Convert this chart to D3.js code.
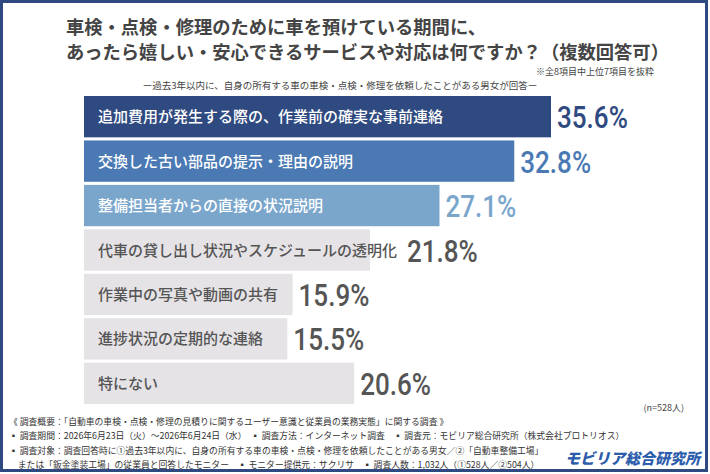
<!DOCTYPE html>
<html><head><meta charset="utf-8">
<script src="https://cdn.jsdelivr.net/npm/d3@7"></script>
<style>body{margin:0;background:#fff}svg{display:block}</style>
</head><body><svg id="c" width="710" height="474"></svg>
<script>
const categories=["追加費用が発生する際の、作業前の確実な事前連絡","交換した古い部品の提示・理由の説明","整備担当者からの直接の状況説明","代車の貸し出し状況やスケジュールの透明化","作業中の写真や動画の共有","進捗状況の定期的な連絡","特にない"];
const values=[35.6,32.8,27.1,21.8,15.9,15.5,20.6];
const barColors=["#2f4a80","#4a79b4","#7ba6cc","#e5e3e6","#e5e3e6","#e5e3e6","#e5e3e6"];
const valColors=["#2f4a80","#4a79b4","#7ba6cc","#555","#555","#555","#555"];
const F="'Noto Sans CJK JP','Noto Sans',sans-serif";
const svg=d3.select("#c");
svg.append("rect").attr("x",1.5).attr("y",1.5).attr("width",705).attr("height",469).attr("fill","#fff").attr("stroke","#2f4a80").attr("stroke-width",3);
const x=d3.scaleLinear().domain([0,35.6]).range([84,551]);
const y=d3.scaleBand().domain(d3.range(categories.length)).range([96,404]).paddingInner(0.07).paddingOuter(0);
svg.append("text").attr("x",66).attr("y",34).attr("font-family",F).attr("font-size",18.3).attr("font-weight",700).attr("fill","#444").text("車検・点検・修理のために車を預けている期間に、");
svg.append("text").attr("x",66).attr("y",59).attr("font-family",F).attr("font-size",18.3).attr("font-weight",700).attr("fill","#444").text("あったら嬉しい・安心できるサービスや対応は何ですか？（複数回答可）");
svg.append("text").attr("x",654).attr("y",75).attr("text-anchor","end").attr("font-family",F).attr("font-size",9).attr("fill","#444").text("※全8項目中上位7項目を抜粋");
svg.append("text").attr("x",340).attr("y",89).attr("text-anchor","middle").attr("font-family",F).attr("font-size",9.5).attr("fill","#444").text("ー過去3年以内に、自身の所有する車の車検・点検・修理を依頼したことがある男女が回答ー");
const g=svg.selectAll("g.r").data(values).join("g");
g.append("rect").attr("x",x(0)).attr("y",(d,i)=>y(i)).attr("width",d=>x(d)-x(0)).attr("height",y.bandwidth()).attr("fill",(d,i)=>barColors[i]);
const lab=g.append("text").attr("x",98).attr("y",(d,i)=>y(i)+y.bandwidth()/2+5.5).attr("font-family",F).attr("font-size",15).attr("font-weight",500).attr("fill",(d,i)=>i<3?"#fff":"#555").text((d,i)=>categories[i]);
const labEnd=[];lab.each(function(){labEnd.push(98+this.getComputedTextLength());});
g.append("text").attr("x",(d,i)=>Math.max(x(d),labEnd[i]+4)+6).attr("y",(d,i)=>y(i)+y.bandwidth()/2+11.5).attr("font-family","'Roboto',sans-serif").attr("font-size",31).attr("font-weight",500).attr("fill",(d,i)=>valColors[i]).text(d=>d.toFixed(1)+"%")
 .each(function(){const L=this.getComputedTextLength();d3.select(this).attr("textLength",L*0.84).attr("lengthAdjust","spacingAndGlyphs");});
svg.append("text").attr("x",684).attr("y",411).attr("text-anchor","end").attr("font-family",F).attr("font-size",9).attr("fill","#444").text("(n=528人)");
const foot=["《 調査概要：「自動車の車検・点検・修理の見積りに関するユーザー意識と従業員の業務実態」に関する調査 》","▪ 調査期間：2026年6月23日（火）～2026年6月24日（水）　▪ 調査方法：インターネット調査　▪ 調査元：モビリア総合研究所（株式会社プロトリオス）","▪ 調査対象：調査回答時に①過去3年以内に、自身の所有する車の車検・点検・修理を依頼したことがある男女／②「自動車整備工場」","　または「鈑金塗装工場」の従業員と回答したモニター　▪ モニター提供元：サクリサ　▪ 調査人数：1,032人（①528人／②504人）"];
svg.selectAll("text.f").data(foot).join("text").attr("x",9).attr("y",(d,i)=>425+i*14.3).attr("font-family",F).attr("font-size",8.8).attr("fill","#333").text(d=>d);
svg.append("text").attr("x",700).attr("y",464).attr("text-anchor","end").attr("font-family",F).attr("font-size",15).attr("font-weight",900).attr("font-style","italic").attr("fill","#2b5cab").text("モビリア総合研究所");
</script></body></html>
